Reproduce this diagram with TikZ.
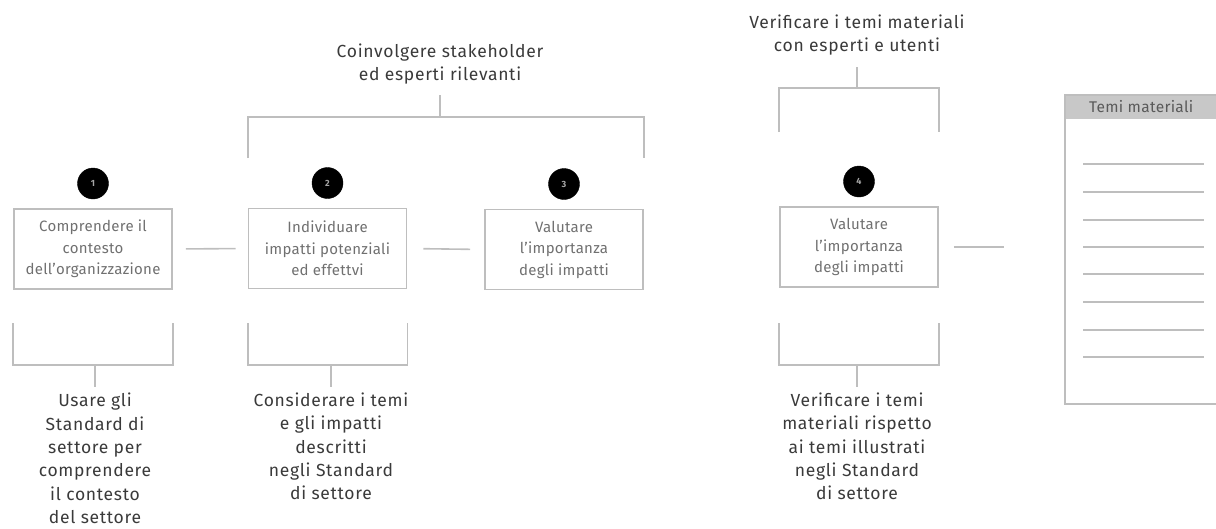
\documentclass[tikz,border=0pt]{standalone}
\usepackage{fontspec}
\setmainfont{Fira Sans}
\newfontfamily\notefont{Fira Sans}[LetterSpace=4]
\newfontfamily\boxfont{Fira Sans}[LetterSpace=2]
\usetikzlibrary{positioning,calc}

\definecolor{rulegray}{HTML}{BEBEBE}
\definecolor{boxtext}{HTML}{707070}
\definecolor{notetext}{HTML}{3A3A3A}
\definecolor{headgray}{HTML}{C8C8C8}

\begin{document}
\begin{tikzpicture}[x=1pt, y=-1pt,
    box/.style={draw=rulegray, line width=1.6pt, minimum width=158pt,
      minimum height=80pt, align=center, text=boxtext,
      font=\boxfont\fontsize{15}{21.5}\selectfont},
    num/.style={circle, draw=black, fill=black, minimum size=31pt, inner sep=0pt,
      text=gray!70, font=\fontsize{9}{9}\selectfont\bfseries},
    note/.style={align=center, text=notetext, font=\notefont\fontsize{17.5}{23.3}\selectfont},
    link/.style={draw=rulegray, line width=1.6pt},
    bracket/.style={draw=rulegray, line width=1.6pt}]
    \useasboundingbox (0,0) rectangle (1216,528);

    % steps
    \node [box] (b1) at (93,249)    {Comprendere il\\contesto\\dell’organizzazione};
    \node [box] (b2) at (327.5,248.5) {Individuare\\impatti potenziali\\ed effettvi};
    \node [box] (b3) at (564,249.5) {Valutare\\l’importanza\\degli impatti};
    \node [box] (b4) at (859,247)   {Valutare\\l’importanza\\degli impatti};

    \node [num, above=9pt of b1] (n1) {1};
    \node [num, above=9pt of b2] (n2) {2};
    \node [num, above=9pt of b3] (n3) {3};
    \node [num, above=9pt of b4] (n4) {4};

    % material topics list
    \node [fill=headgray, anchor=north west, minimum width=154pt, minimum height=25pt,
      inner sep=0pt, text=boxtext!80!black, font=\boxfont\fontsize{15.5}{18}\selectfont] (head) at (1064,94) {Temi materiali};
    \node [draw=rulegray, line width=1.6pt, anchor=north west, minimum width=154pt,
      minimum height=309pt] (list) at (1064,94) {};
    \foreach \y in {164,192,220,247,274,302,330,357}
      \draw [rulegray, line width=1.6pt] (1083,\y) -- (1204,\y);

    \path (b1.east) edge [link, shorten <=13pt, shorten >=12pt] (b2.west)
          (b2.east) edge [link, shorten <=16pt, shorten >=14pt] (b3.west)
          (b4.east) edge [link, shorten <=15pt, shorten >=60pt] (list.west |- b4.east);

    % notes above
    \node [note] (t23) at (440,64) {Coinvolgere stakeholder\\ed esperti rilevanti};
    \node [note] (t4)  at (857,35) {Verificare i temi materiali\\con esperti e utenti};
    \draw [bracket] (b2.west |- 0,158) -- (b2.west |- 0,117) -- (b3.east |- 0,117) -- (b3.east |- 0,158);
    \draw [bracket] (t23.south |- 0,95) -- (t23.south |- 0,117);
    \draw [bracket] (b4.west |- 0,132) -- (b4.west |- 0,88) -- (b4.east |- 0,88) -- (b4.east |- 0,132);
    \draw [bracket] (t4.south |- 0,67) -- (t4.south |- 0,88);

    % notes below
    \node [note] (u1) at (95,458.5)  {Usare gli\\Standard di\\settore per\\comprendere\\il contesto\\del settore};
    \node [note] (u2) at (331,446.5) {Considerare i temi\\e gli impatti\\descritti\\negli Standard\\di settore};
    \node [note] (u4) at (857,446.5) {Verificare i temi\\materiali rispetto\\ai temi illustrati\\negli Standard\\di settore};
    \draw [bracket] (b1.west |- 0,323) -- (b1.west |- 0,365) -- (b1.east |- 0,365) -- (b1.east |- 0,323);
    \draw [bracket] (u1.north |- 0,365) -- (u1.north |- 0,387);
    \draw [bracket] (b2.west |- 0,323) -- (b2.west |- 0,365) -- (b2.east |- 0,365) -- (b2.east |- 0,323);
    \draw [bracket] (u2.north |- 0,365) -- (u2.north |- 0,387);
    \draw [bracket] (b4.west |- 0,323) -- (b4.west |- 0,365) -- (b4.east |- 0,365) -- (b4.east |- 0,323);
    \draw [bracket] (u4.north |- 0,365) -- (u4.north |- 0,387);
\end{tikzpicture}
\end{document}
